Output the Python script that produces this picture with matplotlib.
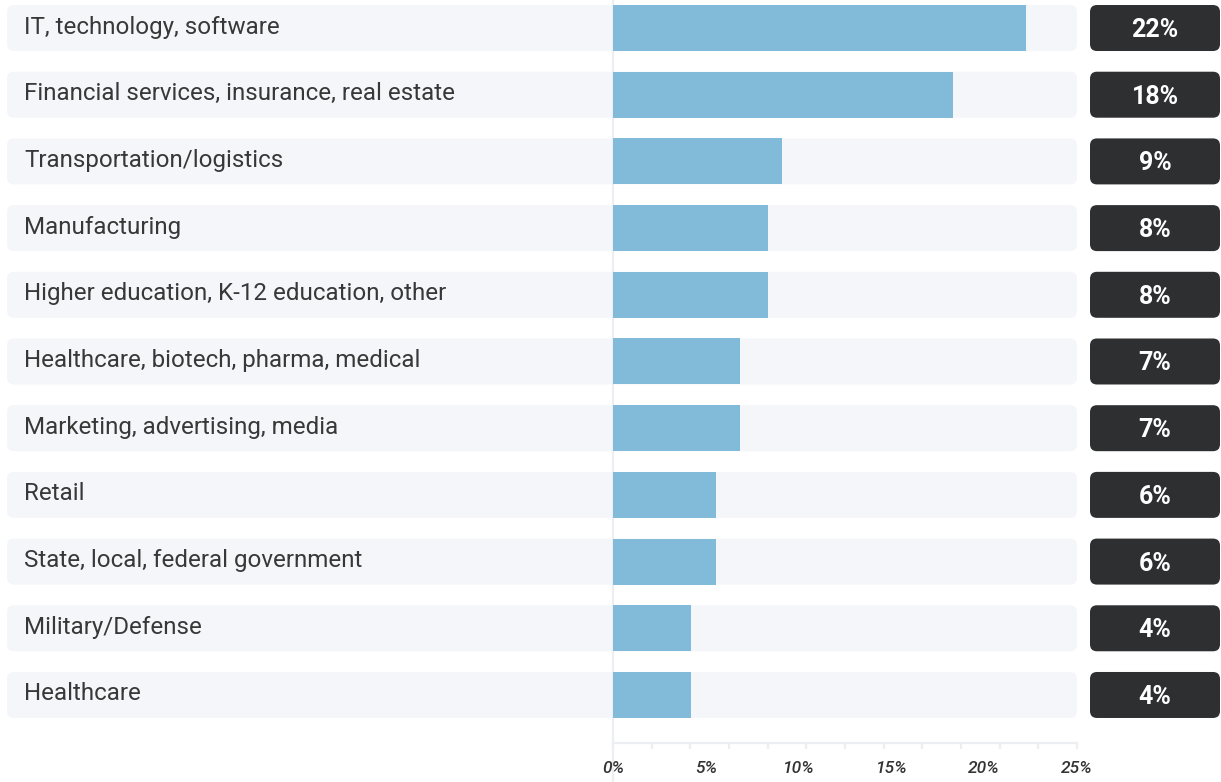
import numpy as np
import matplotlib.pyplot as plt
from matplotlib.patches import FancyBboxPatch
from matplotlib.transforms import blended_transform_factory

# Industry breakdown of respondents (percent)
industries = [
    "IT, technology, software",
    "Financial services, insurance, real estate",
    "Transportation/logistics",
    "Manufacturing",
    "Higher education, K-12 education, other",
    "Healthcare, biotech, pharma, medical",
    "Marketing, advertising, media",
    "Retail",
    "State, local, federal government",
    "Military/Defense",
    "Healthcare",
]
shares = [22.25, 18.3, 9.1, 8.35, 8.35, 6.85, 6.85, 5.55, 5.55, 4.2, 4.2]
tick_labels = ["0%", "5%", "10%", "15%", "20%", "25%"]

W, H = 1221, 782
fig = plt.figure(figsize=(W / 100, H / 100), dpi=100)
plt.rcParams['font.family'] = ['Roboto', 'DejaVu Sans']

# axes: x=0 at 613px, x=25 at 1077px; top at 0px, bottom spine at 743px
x0, x1 = 613, 1077
ax = fig.add_axes([x0 / W, (H - 743) / H, (x1 - x0) / W, 743 / H])
ax.set_xlim(0, 25)
ax.set_ylim(10.72, -0.42)
ax.patch.set_alpha(0)

px_x = 25 / (x1 - x0)      # data units per pixel, x
px_y = 11.14 / 743         # data units per pixel, y
row_h = 46 * px_y
aspect = px_y / px_x

y = np.arange(len(industries))
bg_left = -606 * px_x
box_left = 25 + 13 * px_x
box_w = 130 * px_x

for i, (name, val) in enumerate(zip(industries, shares)):
    # light row background
    ax.add_patch(FancyBboxPatch((bg_left, i - row_h / 2), 25 - bg_left, row_h,
                                boxstyle="round,pad=0,rounding_size=%f" % (7 * px_x),
                                mutation_aspect=aspect, fc="#f5f6fa", ec="none",
                                clip_on=False, zorder=0))
    # dark value box
    ax.add_patch(FancyBboxPatch((box_left, i - row_h / 2), box_w, row_h,
                                boxstyle="round,pad=0,rounding_size=%f" % (7 * px_x),
                                mutation_aspect=aspect, fc="#2e2f31", ec="none",
                                clip_on=False, zorder=0))
    ax.text(bg_left + 17 * px_x, i - 1 * px_y, name, ha="left", va="center",
            fontsize=17.4, color="#383838", zorder=3)
    ax.text(box_left + box_w / 2, i + 2 * px_y, "%d%%" % round(val), ha="center",
            va="center", fontsize=18, fontweight="bold", color="white", zorder=3)

ax.barh(y, shares, height=row_h, color="#82bad9", zorder=2)

# vertical zero line running the full height
trans = blended_transform_factory(ax.transData, fig.transFigure)
ax.plot([0, 0], [0, 1], transform=trans, color="#eceef3", lw=1.6,
        clip_on=False, zorder=1)

for side in ["top", "right", "left"]:
    ax.spines[side].set_visible(False)
ax.spines["bottom"].set_color("#eceef3")
ax.spines["bottom"].set_linewidth(1.6)
ax.set_yticks([])

ax.xaxis.remove_overlapping_locs = False
ax.set_xticks(np.linspace(0, 25, 13))
ax.tick_params(axis="x", which="major", length=4, width=1.6, color="#eceef3",
               labelbottom=False)
ax.set_xticks(np.arange(0, 26, 5), minor=True)
ax.set_xticklabels(tick_labels, minor=True, fontsize=12.5, fontstyle="italic",
                   fontweight="medium", color="#333333")
ax.tick_params(axis="x", which="minor", length=0, pad=13)

fig.savefig("out.png", dpi=100)
